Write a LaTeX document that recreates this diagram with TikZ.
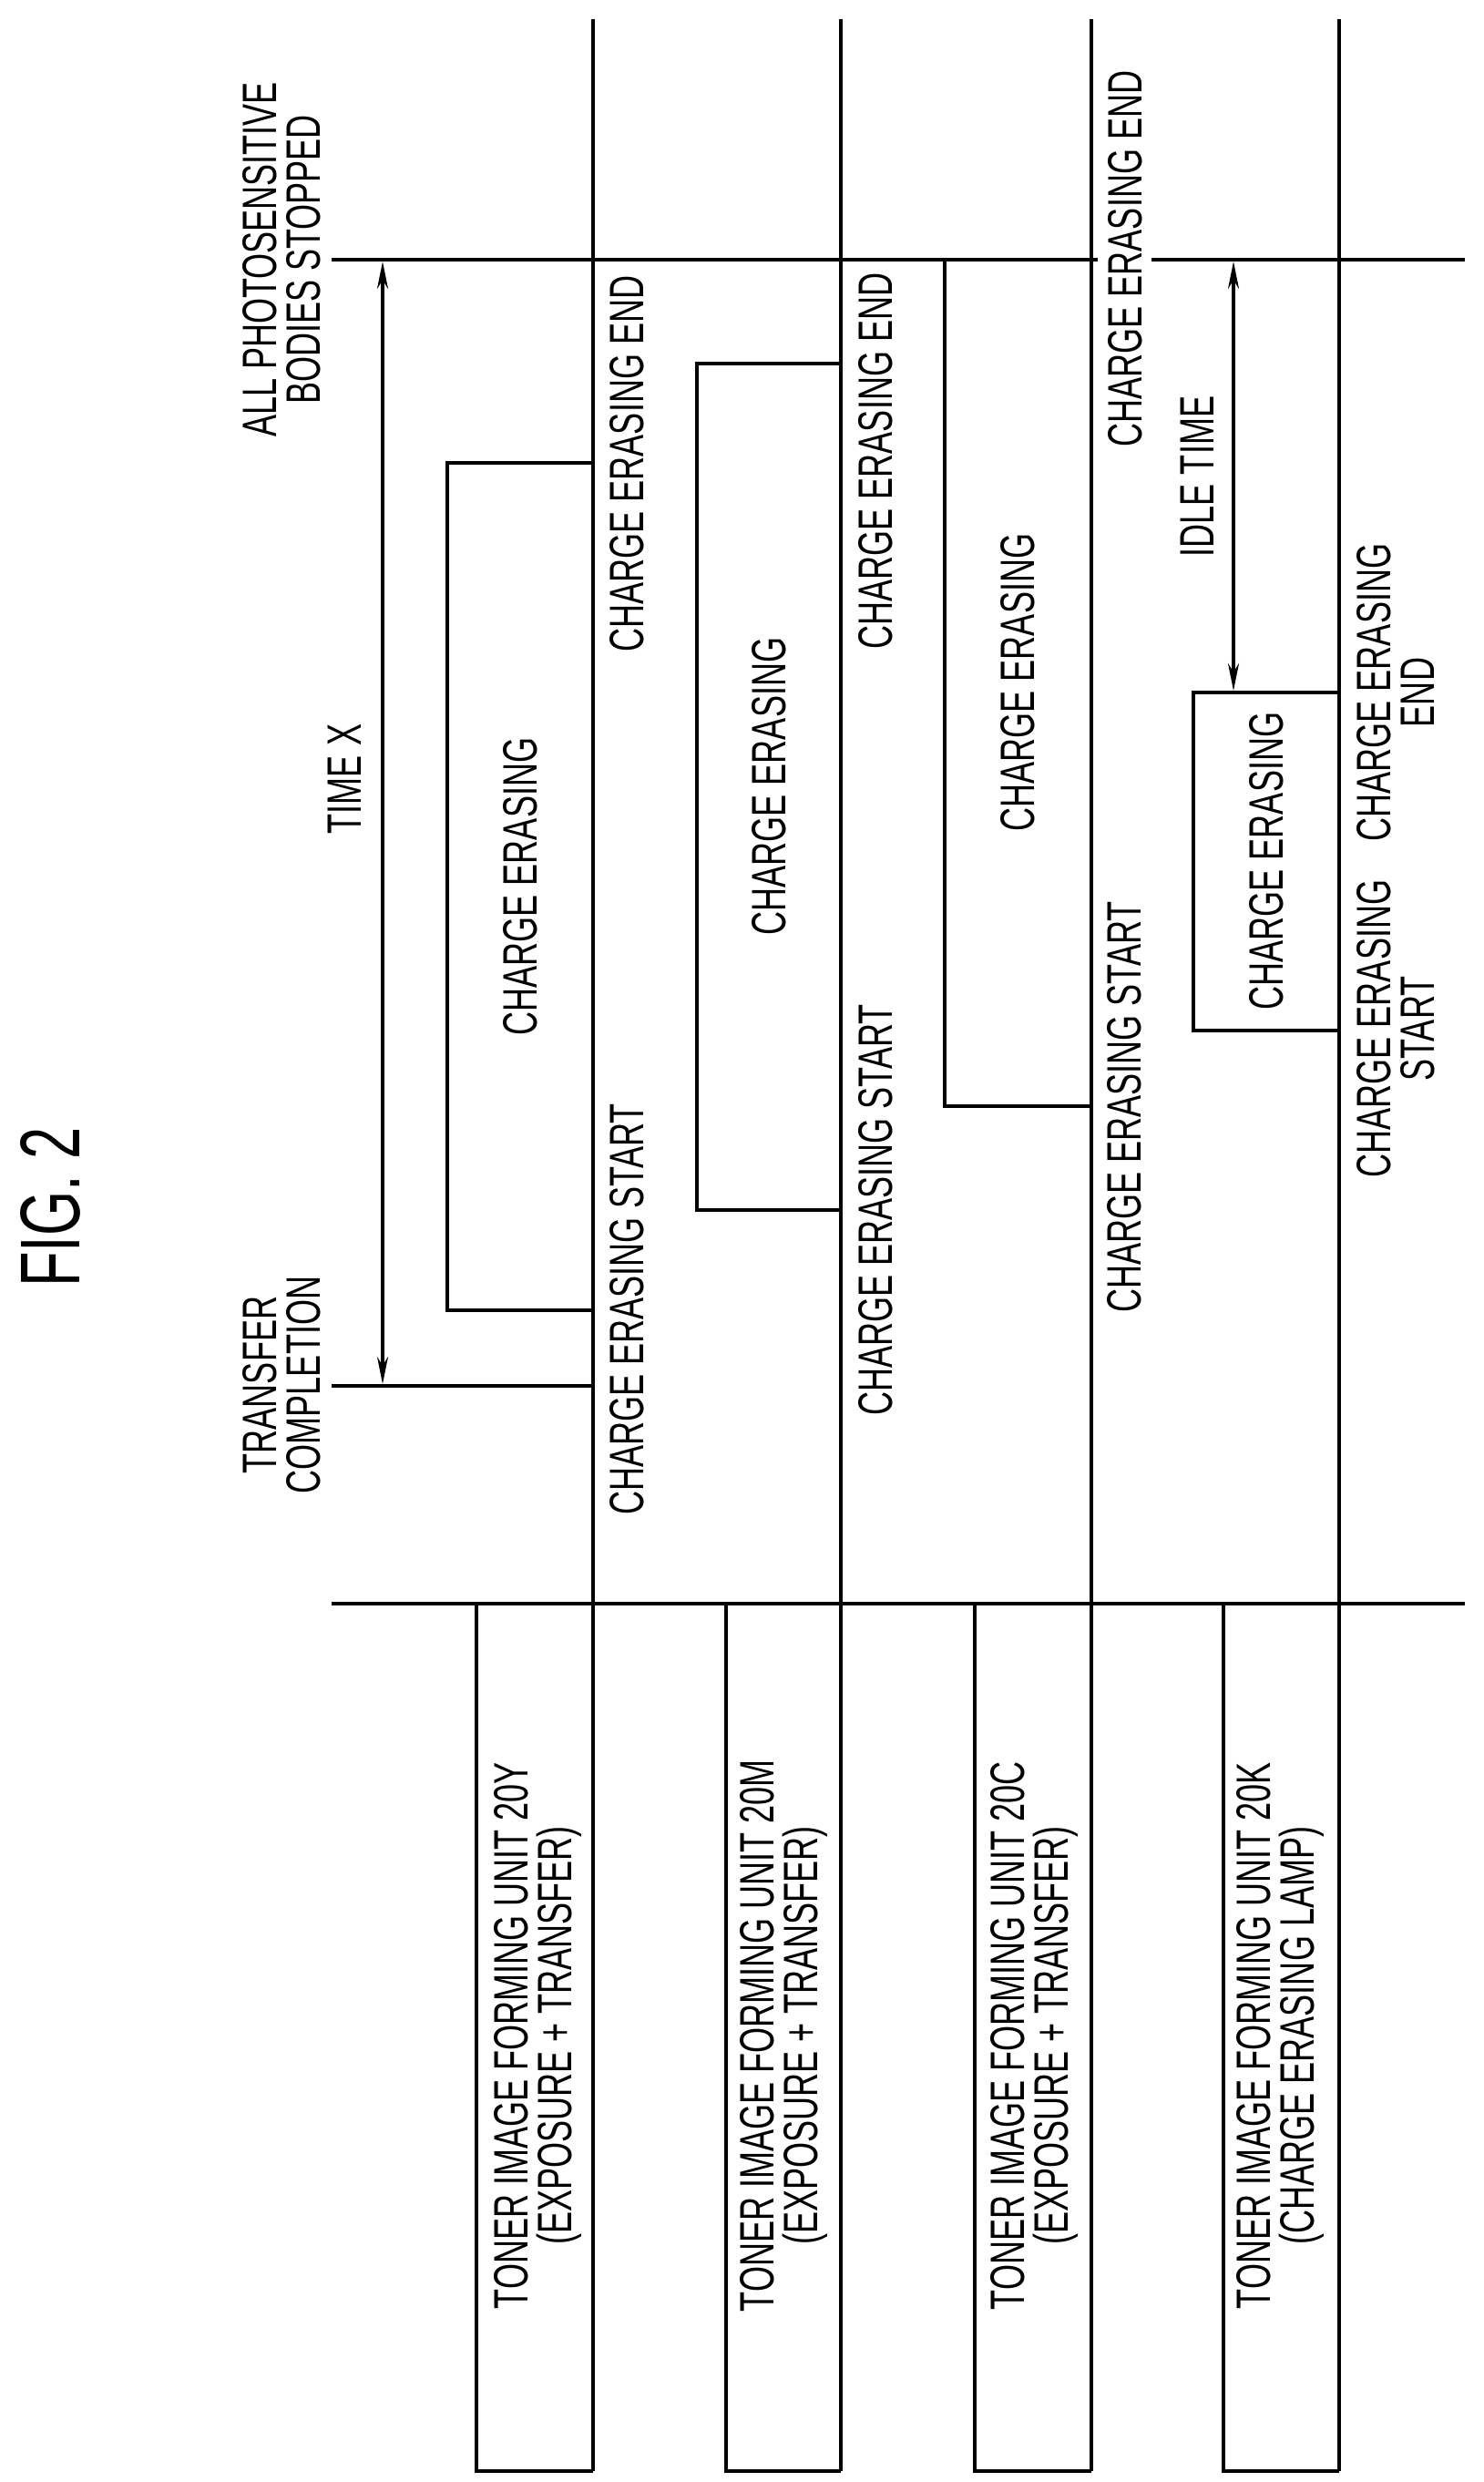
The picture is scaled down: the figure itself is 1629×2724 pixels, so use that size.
\documentclass[tikz,border=0pt]{standalone}
\usepackage{fontspec}
\setmainfont{Liberation Sans}[FakeStretch=0.68]
\usetikzlibrary{arrows.meta}
\begin{document}
\begin{tikzpicture}[x=1pt,y=-1pt,
  ln/.style={line width=4.5pt},
  ar/.style={line width=3.5pt,{Stealth[length=30pt,width=12pt]}-{Stealth[length=30pt,width=12pt]}},
  lb/.style={rotate=90,inner sep=0pt,align=center,font=\fontsize{53}{48}\selectfont}]
\useasboundingbox (0,0) rectangle (1629,2724);
% vertical unit lines
\foreach \x in {651,923,1198,1470} \draw[ln] (\x,21) -- (\x,2712);
% top line with gap
\draw[ln] (364,285) -- (1205,285);
\draw[ln] (1264,285) -- (1608,285);
% bottom line
\draw[ln] (364,1760) -- (1608,1760);
% transfer completion line
\draw[ln] (364,1521) -- (651,1521);
% charge erasing boxes
\draw[ln] (651,508) -- (491,508) -- (491,1438) -- (651,1438);
\draw[ln] (923,399) -- (765,399) -- (765,1328) -- (923,1328);
\draw[ln] (1037,285) -- (1037,1214) -- (1198,1214);
\draw[ln] (1470,760) -- (1310,760) -- (1310,1131) -- (1470,1131);
% unit boxes
\draw[ln] (651,2712) -- (523,2712) -- (523,1760);
\draw[ln] (923,2712) -- (797,2712) -- (797,1760);
\draw[ln] (1198,2712) -- (1070,2712) -- (1070,1760);
\draw[ln] (1470,2712) -- (1343,2712) -- (1343,1760);
% arrows
\coordinate (tx1) at (420,287); \coordinate (tx2) at (420,1519);
\draw[ar] (tx1) -- (tx2);
\coordinate (it1) at (1354,287); \coordinate (it2) at (1354,758);
\draw[ar] (it1) -- (it2);
% texts
\node[rotate=90,inner sep=0pt,font=\fontsize{93}{93}\selectfont] (fig) at (55,1325) {FIG. 2};
\node[lb] (allst) at (309,285) {ALL PHOTOSENSITIVE\\BODIES STOPPED};
\node[lb] (trc) at (309,1520) {TRANSFER\\COMPLETION};
\node[lb] (tx) at (378,855) {TIME X};
\node[lb] (ceY) at (571,973) {CHARGE ERASING};
\node[lb] (ceM) at (844,863) {CHARGE ERASING};
\node[lb] (ceC) at (1117,749) {CHARGE ERASING};
\node[lb] (ceK) at (1390,945) {CHARGE ERASING};
\node[lb] (endY) at (688,509) {CHARGE ERASING END};
\node[lb] (endM) at (961,506) {CHARGE ERASING END};
\node[lb] (endC) at (1235,284) {CHARGE ERASING END};
\node[lb] (stY) at (688,1437) {CHARGE ERASING START};
\node[lb] (stM) at (961,1328) {CHARGE ERASING START};
\node[lb] (stC) at (1234,1215) {CHARGE ERASING START};
\node[lb] (endK) at (1532,760) {CHARGE ERASING\\END};
\node[lb] (stK) at (1532,1129) {CHARGE ERASING\\START};
\node[lb] (it) at (1314,523) {IDLE TIME};
\node[lb] (uY) at (590,2234) {TONER IMAGE FORMING UNIT 20Y\\(EXPOSURE + TRANSFER)};
\node[lb] (uM) at (860,2234) {TONER IMAGE FORMING UNIT 20M\\(EXPOSURE + TRANSFER)};
\node[lb] (uC) at (1135,2234) {TONER IMAGE FORMING UNIT 20C\\(EXPOSURE + TRANSFER)};
\node[lb] (uK) at (1405,2234) {TONER IMAGE FORMING UNIT 20K\\(CHARGE ERASING LAMP)};
\end{tikzpicture}
\end{document}
